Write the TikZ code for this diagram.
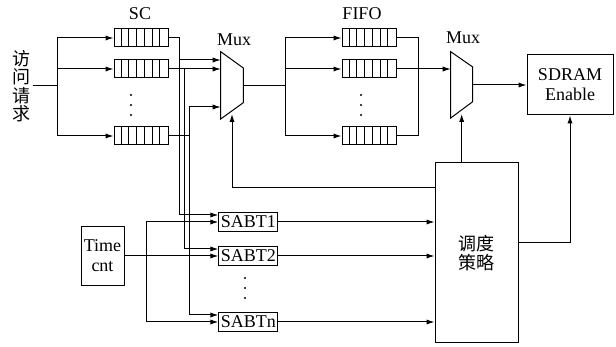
\documentclass[tikz,border=0pt]{standalone}
\usepackage{fontspec}
\setmainfont{Liberation Serif}
\newfontfamily\cjk{Noto Sans CJK SC}
\usetikzlibrary{arrows.meta}

\begin{document}
\begin{tikzpicture}[x=0.5pt, y=-0.5pt, line width=0.5pt,
    font=\fontsize{9}{10}\selectfont,
    arr/.style={-{Latex[length=4pt,width=2.6pt]}},
    queue/.style={draw, minimum width=27pt, minimum height=9pt, inner sep=0pt},
    blk/.style={draw, align=center, inner sep=1pt},
    hanzi/.style={font=\cjk\fontsize{9}{9.2}\selectfont, align=center, inner sep=1pt}]
    \useasboundingbox (0,0) rectangle (616,347);

    % Queues (SC and FIFO)
    \foreach \g/\cx in {sc/141, fifo/369} {
      \foreach \r/\cy in {1/38, 2/69, n/136} {
        \node[queue] (\g\r) at (\cx,\cy) {};
        \foreach \k in {1,...,6}
          \draw ([xshift=\k*27pt/7]\g\r.north west) -- ([xshift=\k*27pt/7]\g\r.south west);
      }
    }
    \foreach \y in {95,105,115} {
      \fill (131,\y) circle (0.6pt);
      \fill (361,\y) circle (0.6pt);
    }
    \node (sclbl) at (140,14) {SC};
    \node (fifolbl) at (362,14) {FIFO};

    % Muxes
    \draw (220.7,51.7) -- (243.3,68) -- (243.3,102.7) -- (220.7,119) -- cycle;
    \draw (450.7,51.7) -- (472.7,67) -- (472.7,101.7) -- (450.7,118) -- cycle;
    \node (mux1lbl) at (234,40) {Mux};
    \node (mux2lbl) at (463,38) {Mux};
    \coordinate (m1i1) at (220.7,60);
    \coordinate (m1i2) at (220.7,69);
    \coordinate (m1i3) at (220.7,107);
    \coordinate (m1o) at (243.3,86);
    \coordinate (m1c) at (232,114);
    \coordinate (m2i) at (450.7,69);
    \coordinate (m2o) at (472.7,85);
    \coordinate (m2c) at (461.7,114);

    % Blocks
    \node[hanzi] (req) at (21,86) {访\\问\\请\\求};
    \node[blk, minimum width=43pt, minimum height=30pt] (sdram) at (570,85) {SDRAM\\Enable};
    \node[blk, minimum width=41.5pt, minimum height=90pt, hanzi] (ctrl) at (476.5,253) {调度\\策略};
    \node[blk, minimum width=21.5pt, minimum height=29.5pt] (tc) at (102.5,256) {Time\\cnt};
    \foreach \r/\cy in {1/222, 2/256, n/322}
      \node[blk, minimum width=28.3pt, minimum height=9.5pt] (sabt\r) at (248.3,\cy) {SABT\r};
    \foreach \y in {278,288,298}
      \fill (245,\y) circle (0.6pt);

    % Request fan-out
    \coordinate (rb) at (57,86);
    \draw (req.east) -- (rb);
    \draw (rb |- sc1.west) -- (rb |- scn.west);
    \foreach \r in {1,2,n}
      \draw[arr] (rb |- sc\r.west) -- (sc\r.west);

    % SC outputs to Mux and SABT
    \coordinate (v1) at (179,0);
    \coordinate (v2) at (184,0);
    \coordinate (v3) at (189,0);
    \foreach \r in {1,2,n}
      \coordinate (a\r) at ([yshift=3.5pt]sabt\r.west);
    \draw[arr] (sc1.east) -| (v1 |- a1) -- (a1);
    \draw[arr] (v1 |- m1i1) -- (m1i1);
    \draw[arr] (sc2.east) -- (m1i2);
    \draw[arr] (v2 |- sc2.east) |- (a2);
    \draw (scn.east) -- (v3 |- scn.east);
    \draw[arr] (v3 |- m1i3) |- (an);
    \draw[arr] (v3 |- m1i3) -- (m1i3);

    % Time cnt to SABT
    \coordinate (tb) at (146,0);
    \draw (tb |- sabt1.west) -- (tb |- sabtn.west);
    \draw[arr] (tb |- sabt1.west) -- (sabt1.west);
    \draw[arr] (tb |- sabtn.west) -- (sabtn.west);
    \draw[arr] (tc.east) -- (sabt2.west);

    % Mux 1 to FIFO
    \coordinate (fb) at (285,0);
    \draw (m1o) -- (m1o -| fb);
    \draw (fb |- fifo1.west) -- (fb |- fifon.west);
    \foreach \r in {1,2,n}
      \draw[arr] (fb |- fifo\r.west) -- (fifo\r.west);

    % FIFO to Mux 2
    \coordinate (fo) at (418,0);
    \draw (fifo1.east) -| (fo |- fifon.east) -- (fifon.east);
    \draw[arr] (fifo2.east) -- (m2i);
    \draw[arr] (m2o) -- (sdram.west);

    % Control
    \foreach \r in {1,2,n}
      \draw[arr] (sabt\r.east) -- (sabt\r.east -| ctrl.west);
    \draw[arr] ([yshift=5pt]ctrl.east) -| (sdram.south);
    \draw[arr] (ctrl.north -| m2c) -- (m2c);
    \coordinate (fbk) at (435,188);
    \draw[arr] (fbk) -| (m1c);
\end{tikzpicture}
\end{document}
